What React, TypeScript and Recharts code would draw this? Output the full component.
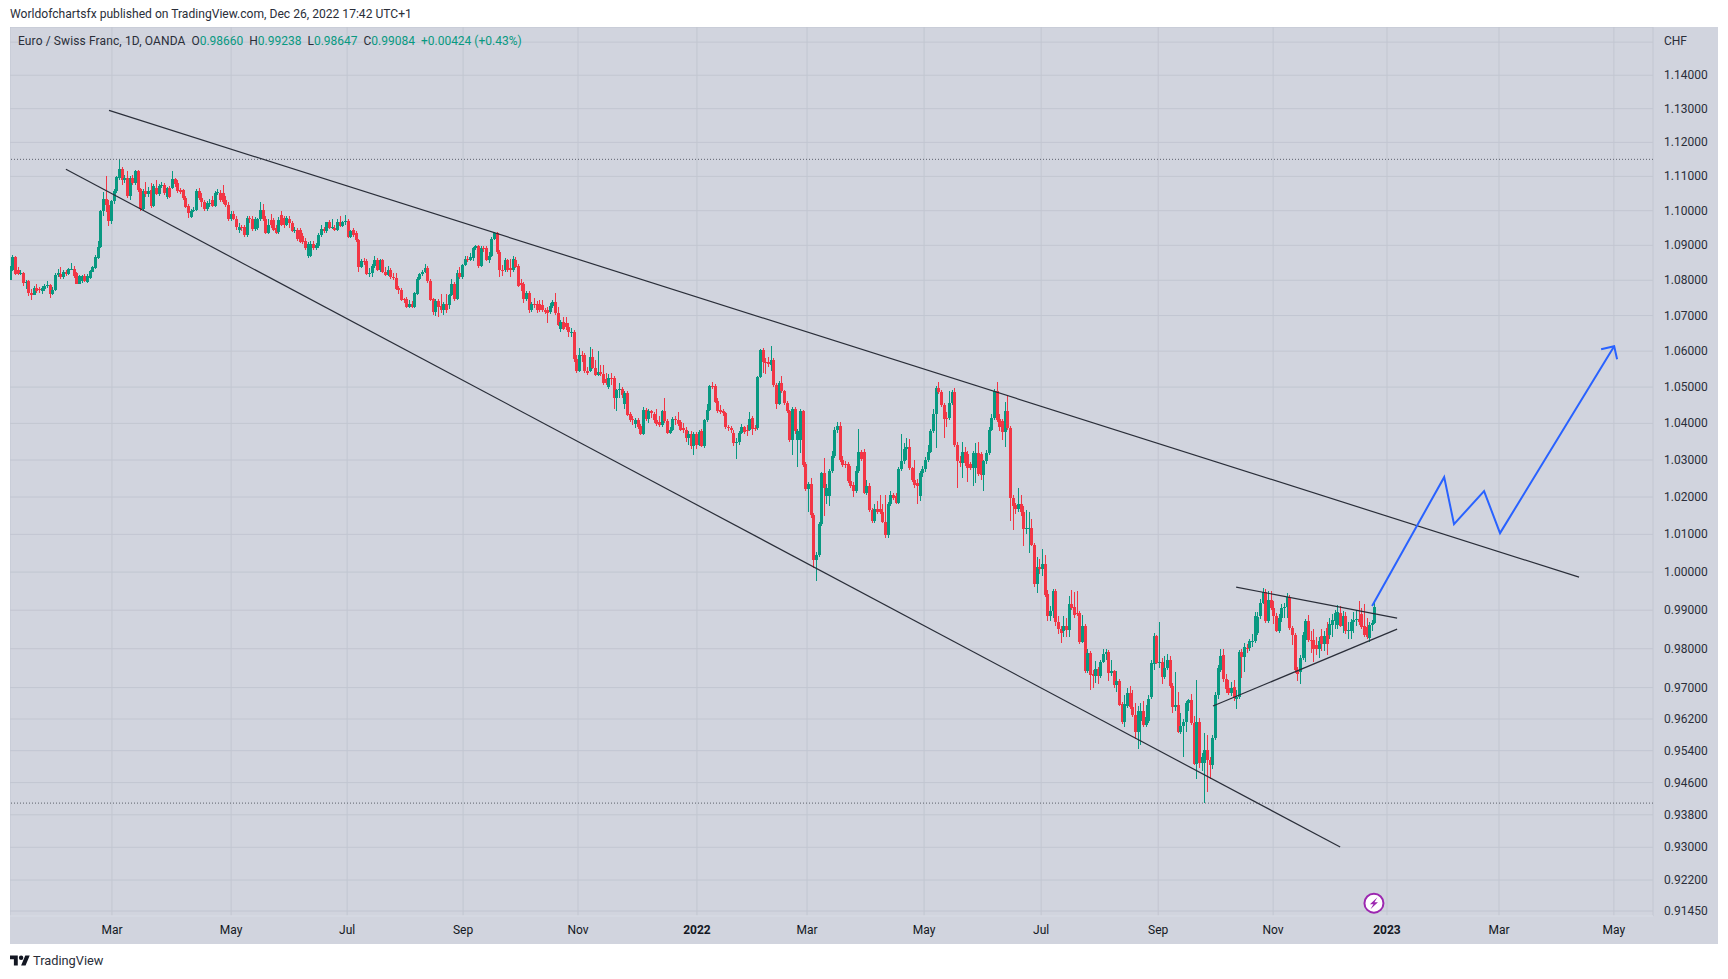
import { Bar, CartesianGrid, ComposedChart, Line, ReferenceDot, ReferenceLine, XAxis, YAxis } from "recharts";

type Ohlc = number[];

// open, high, low, close per trading day
const bars2021JanFeb: Ohlc[] = [
  [1.0802,1.084,1.08,1.0831],[1.0829,1.0871,1.0826,1.0867],[1.0866,1.0868,1.0815,1.0819],[1.083,1.0838,1.0815,1.0819],[1.0819,1.083,1.0815,1.0821],[1.0821,1.0825,1.0785,1.0792],
  [1.0792,1.08,1.0775,1.0794],[1.0797,1.08,1.0754,1.0764],[1.0764,1.0775,1.0745,1.0758],[1.0758,1.0785,1.0757,1.0777],[1.0777,1.0788,1.0765,1.0769],[1.0774,1.078,1.0765,1.0771],
  [1.0769,1.0785,1.0762,1.0778],[1.0776,1.079,1.077,1.0785],[1.0783,1.0798,1.0778,1.0787],[1.0787,1.079,1.0751,1.0761],[1.0761,1.078,1.0758,1.0773],[1.0773,1.082,1.077,1.0815],
  [1.0815,1.0832,1.0808,1.082],[1.0818,1.0838,1.0805,1.0809],[1.0809,1.083,1.0805,1.0825],[1.0825,1.083,1.0812,1.0817],[1.0817,1.0836,1.0815,1.0831],[1.0831,1.0848,1.0828,1.0833],
  [1.0833,1.0842,1.0806,1.0811],[1.0821,1.0824,1.0788,1.079],[1.079,1.0815,1.0788,1.0811],[1.0797,1.0815,1.0792,1.0811],[1.0811,1.0817,1.0794,1.0798],[1.0794,1.0818,1.0792,1.0811],
  [1.0806,1.0829,1.0803,1.0826],[1.0825,1.0841,1.0823,1.0838],[1.0835,1.0872,1.0833,1.0867],[1.0864,1.0912,1.0862,1.0895],[1.0895,1.1003,1.0893,1.1],[1.1,1.1055,1.0985,1.1033],
  [1.1033,1.11,1.0997,1.1017],[1.1017,1.103,1.0957,1.0969],
];
const bars2021MarApr: Ohlc[] = [
  [1.0969,1.1032,1.0962,1.1027],[1.1027,1.1062,1.102,1.1056],[1.1056,1.1102,1.1052,1.1098],[1.1095,1.115,1.109,1.1121],[1.1121,1.1127,1.1075,1.1088],[1.1088,1.1103,1.108,1.1095],
  [1.1095,1.1117,1.1036,1.1042],[1.1042,1.11,1.103,1.1095],[1.1095,1.1105,1.1075,1.1081],[1.1081,1.1118,1.1075,1.1115],[1.1115,1.1118,1.1055,1.106],[1.1062,1.1065,1.1,1.1004],
  [1.1004,1.1062,1.1,1.1056],[1.1056,1.1085,1.104,1.1048],[1.1048,1.1068,1.104,1.1058],[1.106,1.1082,1.1008,1.1015],[1.1015,1.1078,1.101,1.1073],[1.1065,1.109,1.1045,1.1048],
  [1.1048,1.1078,1.1044,1.1073],[1.1073,1.1085,1.1065,1.1075],[1.1075,1.108,1.1045,1.105],[1.1039,1.107,1.1035,1.1066],[1.1066,1.1072,1.1036,1.1039],[1.1066,1.1117,1.1062,1.1091],
  [1.1091,1.1096,1.107,1.1078],[1.1082,1.109,1.1052,1.1056],[1.106,1.1066,1.1048,1.1054],[1.106,1.1063,1.103,1.1036],[1.1038,1.1042,1.1008,1.1012],[1.1014,1.102,1.0978,1.0993],
  [1.0983,1.1005,1.098,1.1],[1.1,1.1012,1.0995,1.1002],[1.1002,1.1062,1.0998,1.1057],[1.1058,1.1066,1.1032,1.1038],[1.1038,1.105,1.101,1.1024],[1.1026,1.1032,1.0998,1.1005],
  [1.1005,1.1028,1.1,1.1021],[1.1021,1.1033,1.1012,1.1023],[1.1031,1.1044,1.1011,1.1015],[1.1015,1.1058,1.1012,1.1052],[1.1052,1.1062,1.1046,1.1054],[1.1052,1.106,1.1026,1.1031],
  [1.105,1.1074,1.102,1.1026],[1.1031,1.1042,1.1012,1.1017],[1.1017,1.1025,1.097,1.0976],
];
const bars2021MayJun: Ohlc[] = [
  [1.0976,1.1,1.097,1.0991],[1.0991,1.1,1.0972,1.0976],[1.0976,1.0984,1.0945,1.0953],[1.0945,1.0965,1.0935,1.0953],[1.0953,1.096,1.094,1.095],[1.0953,1.0958,1.0925,1.0929],
  [1.0929,1.0985,1.0925,1.0978],[1.0978,1.0985,1.0965,1.0975],[1.0975,1.0985,1.0942,1.0947],[1.0947,1.0982,1.0942,1.0976],[1.095,1.098,1.0945,1.0976],[1.0976,1.1025,1.097,1.1002],
  [1.1002,1.102,1.097,1.0976],[1.0976,1.0985,1.0932,1.0936],[1.0936,1.0975,1.0932,1.096],[1.0972,1.099,1.095,1.0958],[1.0973,1.098,1.094,1.0945],[1.095,1.0958,1.0932,1.0936],
  [1.0937,1.0982,1.0932,1.0973],[1.0988,1.1,1.0955,1.096],[1.0978,1.0985,1.095,1.096],[1.096,1.0985,1.0955,1.0978],[1.0975,1.0985,1.095,1.0965],[1.0964,1.097,1.0938,1.0942],
  [1.0942,1.0952,1.0936,1.0944],[1.0945,1.095,1.0912,1.0917],[1.0943,1.0949,1.0906,1.0911],[1.0927,1.0935,1.0905,1.0911],[1.0913,1.0922,1.0888,1.0892],[1.087,1.0911,1.0865,1.0904],
  [1.087,1.0912,1.0866,1.0904],[1.0904,1.0912,1.0888,1.0892],[1.0892,1.0908,1.0888,1.0902],[1.0899,1.0935,1.0892,1.093],[1.093,1.0958,1.0925,1.0947],[1.0947,1.0952,1.0936,1.094],
  [1.094,1.0968,1.0936,1.0966],[1.0966,1.0972,1.0947,1.0951],[1.0951,1.0975,1.0948,1.0953],[1.0951,1.0958,1.094,1.0945],[1.0945,1.0975,1.0942,1.0968],[1.0968,1.0985,1.0952,1.0956],
  [1.0956,1.097,1.0953,1.0968],
];
const bars2021JulAug: Ohlc[] = [
  [1.0968,1.0988,1.0958,1.0971],[1.097,1.0975,1.0922,1.0923],[1.0923,1.0945,1.092,1.094],[1.0943,1.0949,1.0925,1.093],[1.0935,1.094,1.091,1.0914],[1.0914,1.0918,1.0825,1.0838],
  [1.0838,1.086,1.0835,1.0856],[1.0856,1.0865,1.0845,1.0852],[1.0854,1.0862,1.0815,1.0819],[1.0819,1.0835,1.081,1.0822],[1.0822,1.0846,1.0808,1.0841],[1.0841,1.0868,1.0836,1.0859],
  [1.0859,1.0863,1.0826,1.083],[1.0828,1.0861,1.0824,1.0857],[1.0857,1.086,1.082,1.0823],[1.0823,1.0838,1.0812,1.0816],[1.0816,1.084,1.0812,1.0828],[1.0828,1.0835,1.0804,1.0808],
  [1.0808,1.082,1.08,1.0806],[1.0806,1.0822,1.0772,1.0776],[1.0778,1.0785,1.0762,1.0771],[1.0773,1.0778,1.074,1.0744],[1.0746,1.075,1.0735,1.0744],[1.0746,1.0752,1.072,1.0725],
  [1.0725,1.0745,1.072,1.0733],[1.0733,1.074,1.072,1.0725],[1.0725,1.0766,1.0721,1.0763],[1.0761,1.0808,1.0758,1.0804],[1.0804,1.0822,1.08,1.0818],[1.0818,1.0829,1.0812,1.0825],
  [1.0823,1.0846,1.082,1.0836],[1.0836,1.0842,1.0793,1.0797],[1.0799,1.0803,1.074,1.0744],[1.0746,1.075,1.0701,1.0711],[1.0711,1.0748,1.07,1.0742],[1.0742,1.0747,1.0695,1.0725],
  [1.0727,1.076,1.0708,1.0717],[1.0717,1.0737,1.0702,1.0733],[1.0733,1.0762,1.0707,1.0717],[1.073,1.0762,1.0718,1.0758],[1.0758,1.0805,1.0755,1.079],[1.079,1.0795,1.0742,1.0746],
  [1.0746,1.083,1.0743,1.082],[1.082,1.0838,1.0804,1.0809],
];
const bars2021SepOct: Ohlc[] = [
  [1.0809,1.0847,1.0805,1.0844],[1.0844,1.0868,1.084,1.0861],[1.0861,1.087,1.0852,1.0859],[1.0859,1.0877,1.0855,1.0866],[1.0863,1.0896,1.0855,1.0892],[1.0892,1.0902,1.0888,1.0897],
  [1.0897,1.0901,1.0836,1.084],[1.084,1.0897,1.0837,1.0892],[1.0892,1.0897,1.088,1.0889],[1.0892,1.0897,1.0855,1.0859],[1.0859,1.088,1.085,1.087],[1.087,1.0925,1.0866,1.0918],
  [1.0918,1.0938,1.0915,1.0935],[1.0935,1.0938,1.0876,1.088],[1.088,1.0888,1.0808,1.0828],[1.0828,1.0845,1.0812,1.0826],[1.0828,1.0864,1.0823,1.0857],[1.0857,1.0862,1.0825,1.083],
  [1.0835,1.086,1.081,1.0828],[1.0828,1.0868,1.0824,1.0861],[1.0859,1.0866,1.0834,1.0838],[1.0842,1.0846,1.078,1.0784],[1.0792,1.0805,1.077,1.0787],[1.079,1.0795,1.0735,1.0746],
  [1.0746,1.077,1.0742,1.0765],[1.0765,1.077,1.0707,1.0717],[1.0717,1.0738,1.071,1.0733],[1.0733,1.075,1.0722,1.0731],[1.0733,1.0742,1.0708,1.0715],[1.0733,1.0745,1.071,1.0715],
  [1.073,1.0745,1.071,1.0715],[1.0715,1.0722,1.0703,1.0711],[1.0715,1.0725,1.068,1.0708],[1.0711,1.0735,1.0705,1.0727],[1.0727,1.0745,1.0722,1.0739],[1.0739,1.0765,1.0702,1.0706],
  [1.0706,1.0725,1.067,1.0674],[1.0663,1.0688,1.0655,1.0682],[1.0682,1.0695,1.0658,1.0663],[1.0679,1.0695,1.066,1.0668],[1.0668,1.068,1.064,1.0653],[1.0653,1.0665,1.064,1.0655],
  [1.0655,1.066,1.057,1.0579],
];
const bars2021NovDec: Ohlc[] = [
  [1.0579,1.059,1.054,1.0546],[1.0546,1.061,1.0543,1.059],[1.059,1.06,1.057,1.0587],[1.059,1.0595,1.054,1.0546],[1.0546,1.0555,1.0533,1.0539],[1.0546,1.0612,1.0542,1.0584],
  [1.0584,1.0605,1.055,1.0553],[1.0553,1.0575,1.053,1.0534],[1.0534,1.06,1.053,1.0541],[1.0541,1.056,1.053,1.0536],[1.0536,1.056,1.0505,1.051],[1.0522,1.054,1.0505,1.051],
  [1.05,1.0535,1.0495,1.0524],[1.0524,1.0538,1.0505,1.0522],[1.0524,1.053,1.044,1.0469],[1.0469,1.0495,1.0435,1.0491],[1.0491,1.051,1.047,1.0494],[1.0494,1.05,1.047,1.0477],
  [1.0453,1.049,1.044,1.0484],[1.0484,1.049,1.042,1.0424],[1.0427,1.0432,1.0404,1.041],[1.0412,1.042,1.0396,1.0408],[1.0398,1.0415,1.0388,1.041],[1.041,1.0416,1.0385,1.0391],
  [1.0393,1.0398,1.0368,1.037],[1.037,1.0445,1.0368,1.0438],[1.0438,1.0442,1.0406,1.0412],[1.0412,1.044,1.0402,1.0434],[1.0434,1.0438,1.0415,1.0429],[1.0426,1.0432,1.04,1.0408],
  [1.041,1.044,1.0392,1.0398],[1.0405,1.042,1.039,1.0395],[1.0395,1.0438,1.039,1.0434],[1.0434,1.047,1.0402,1.0407],[1.0407,1.0412,1.037,1.0374],[1.0374,1.039,1.037,1.0383],
  [1.0381,1.0418,1.0378,1.0412],[1.0412,1.042,1.0395,1.0408],[1.041,1.043,1.0392,1.0398],[1.0404,1.041,1.0378,1.0383],[1.0386,1.04,1.0375,1.0383],[1.0383,1.039,1.035,1.036],
  [1.036,1.038,1.034,1.0372],[1.0372,1.0378,1.033,1.0338],[1.0338,1.0376,1.0315,1.037],
];
const bars2022JanFeb: Ohlc[] = [
  [1.037,1.0376,1.033,1.034],[1.0341,1.0382,1.0338,1.0377],[1.0379,1.0384,1.0335,1.0338],[1.0338,1.0412,1.0334,1.0408],[1.0409,1.0452,1.0405,1.0437],[1.0437,1.0506,1.0433,1.0504],
  [1.0504,1.0514,1.0495,1.05],[1.0502,1.0508,1.0456,1.046],[1.0462,1.047,1.0428,1.0434],[1.0437,1.045,1.0426,1.0432],[1.0434,1.044,1.042,1.0428],[1.0428,1.0432,1.0385,1.0389],
  [1.0391,1.0395,1.0378,1.0386],[1.0388,1.0392,1.0375,1.0382],[1.0375,1.0382,1.0338,1.0346],[1.0346,1.036,1.0303,1.035],[1.035,1.038,1.034,1.0375],[1.0375,1.0398,1.037,1.0389],
  [1.0389,1.0392,1.0372,1.0377],[1.0382,1.0395,1.0365,1.038],[1.0382,1.0432,1.0378,1.0411],[1.0414,1.042,1.0368,1.0384],[1.0386,1.0396,1.0378,1.0384],[1.0387,1.0532,1.0383,1.0528],
  [1.0528,1.0605,1.0524,1.0602],[1.0602,1.0608,1.054,1.057],[1.057,1.058,1.0535,1.0567],[1.0569,1.0585,1.0555,1.0565],[1.056,1.0615,1.0545,1.0576],[1.0576,1.058,1.05,1.0507],
  [1.0507,1.051,1.044,1.0454],[1.0454,1.0516,1.045,1.0511],[1.0511,1.053,1.0484,1.0488],[1.0488,1.0492,1.045,1.0456],[1.0456,1.0462,1.0428,1.0433],[1.0433,1.0438,1.035,1.0355],
  [1.0355,1.0445,1.0315,1.044],[1.044,1.0445,1.037,1.0379],[1.0355,1.0385,1.0282,1.038],[1.0355,1.044,1.032,1.0435],[1.0434,1.0438,1.0282,1.0287],
];
const bars2022MarApr: Ohlc[] = [
  [1.0289,1.0295,1.0215,1.0221],[1.0221,1.024,1.016,1.0235],[1.0235,1.025,1.0145,1.0151],[1.0151,1.0157,1.001,1.0031],[1.0031,1.0052,0.9976,1.0044],[1.0044,1.0132,1.004,1.0127],
  [1.0127,1.0268,1.0122,1.0264],[1.0266,1.0305,1.015,1.0224],[1.0203,1.0235,1.018,1.0224],[1.0203,1.0275,1.0175,1.0269],[1.0269,1.0325,1.0265,1.031],[1.031,1.039,1.0305,1.0382],
  [1.0382,1.0405,1.0375,1.0393],[1.0393,1.0405,1.0295,1.0299],[1.0299,1.031,1.0282,1.0287],[1.0289,1.0296,1.0278,1.0287],[1.0289,1.0295,1.0238,1.0242],[1.0244,1.0285,1.0225,1.0231],
  [1.0233,1.024,1.02,1.0217],[1.0217,1.0285,1.0212,1.0271],[1.0271,1.0385,1.0266,1.0321],[1.0321,1.0328,1.0296,1.0302],[1.0322,1.033,1.0208,1.0212],[1.0212,1.0245,1.0205,1.023],
  [1.023,1.0238,1.016,1.0165],[1.0165,1.017,1.013,1.0136],[1.0136,1.018,1.013,1.0169],[1.0169,1.019,1.0155,1.016],[1.0169,1.0205,1.0154,1.0159],[1.0159,1.018,1.013,1.0134],
  [1.0134,1.0205,1.009,1.0099],[1.0099,1.0186,1.009,1.0181],[1.0181,1.0215,1.0176,1.0206],[1.0206,1.0212,1.0192,1.0197],[1.0204,1.021,1.018,1.0185],[1.0185,1.028,1.018,1.0275],
  [1.0275,1.0371,1.027,1.0296],[1.0296,1.0345,1.029,1.0329],[1.0329,1.036,1.03,1.0335],[1.0335,1.0357,1.0272,1.0278],[1.0278,1.0282,1.024,1.0246],[1.0246,1.03,1.0225,1.0233],
  [1.0239,1.0248,1.018,1.023],[1.0203,1.027,1.019,1.0264],
];
const bars2022MayJun: Ohlc[] = [
  [1.0264,1.0285,1.0255,1.0275],[1.0275,1.0308,1.0268,1.03],[1.03,1.034,1.0295,1.0323],[1.0323,1.0385,1.0318,1.038],[1.038,1.044,1.0375,1.0426],[1.0426,1.0502,1.0332,1.0498],
  [1.0498,1.0515,1.048,1.0487],[1.0487,1.0492,1.0445,1.0451],[1.0451,1.0455,1.036,1.0412],[1.0414,1.043,1.039,1.0412],[1.0414,1.049,1.041,1.0456],[1.0456,1.0492,1.045,1.0487],
  [1.0487,1.0497,1.0336,1.0341],[1.0341,1.035,1.0225,1.0296],[1.0296,1.0312,1.028,1.0291],[1.0291,1.035,1.0252,1.0323],[1.0323,1.0335,1.0285,1.0291],[1.0317,1.0325,1.024,1.0278],
  [1.0289,1.0295,1.0272,1.0278],[1.0278,1.0325,1.023,1.032],[1.0278,1.0345,1.0238,1.032],[1.032,1.035,1.0258,1.0262],[1.0317,1.0322,1.0245,1.026],[1.026,1.03,1.0215,1.0296],
  [1.0296,1.0328,1.029,1.032],[1.032,1.039,1.0315,1.0382],[1.0382,1.0425,1.0378,1.0414],[1.0414,1.0495,1.041,1.049],[1.049,1.0515,1.0404,1.0409],[1.0411,1.0425,1.038,1.0389],
  [1.0407,1.0412,1.0355,1.0377],[1.0377,1.046,1.0335,1.0434],[1.0434,1.0478,1.0382,1.0386],[1.0386,1.0392,1.0135,1.0198],[1.0198,1.0205,1.0112,1.0177],[1.0179,1.0185,1.0155,1.0169],
  [1.0169,1.0225,1.016,1.0181],[1.0181,1.0205,1.015,1.016],[1.016,1.0175,1.007,1.0113],[1.0113,1.0165,1.01,1.0117],[1.0113,1.016,1.005,1.0118],[1.0118,1.014,1.0068,1.0073],
  [1.0073,1.0078,0.9962,0.9968],[0.9968,1.004,0.9946,1.0014],
];
const bars2022JulAug: Ohlc[] = [
  [1.0014,1.0035,0.9995,1.0008],[1.0008,1.006,0.999,1.0022],[1.0022,1.0045,0.9935,0.994],[0.9943,0.9952,0.9872,0.9885],[0.9885,0.9912,0.9872,0.9897],[0.9897,0.9955,0.988,0.9951],
  [0.9951,0.9955,0.9858,0.987],[0.987,0.9885,0.9838,0.9852],[0.9852,0.9858,0.9815,0.984],[0.9845,0.9885,0.983,0.9859],[0.9859,0.988,0.983,0.9848],[0.9848,0.9938,0.983,0.9917],
  [0.9917,0.9952,0.99,0.9906],[0.9908,0.9948,0.988,0.9888],[0.9892,0.995,0.9885,0.989],[0.9892,0.9897,0.9812,0.9817],[0.9817,0.9888,0.9815,0.9859],[0.9859,0.9863,0.9738,0.9742],
  [0.9742,0.98,0.9738,0.979],[0.979,0.9795,0.9695,0.9732],[0.9734,0.9745,0.97,0.973],[0.973,0.9768,0.9712,0.9747],[0.9747,0.9752,0.9708,0.973],[0.973,0.977,0.9725,0.9767],
  [0.9767,0.98,0.9762,0.9786],[0.9786,0.98,0.977,0.9792],[0.9792,0.9797,0.9718,0.9738],[0.9738,0.9772,0.973,0.9742],[0.9742,0.9745,0.97,0.9706],[0.9706,0.9742,0.969,0.9717],
  [0.9717,0.9722,0.9652,0.9656],[0.9658,0.9662,0.9608,0.9613],[0.9613,0.968,0.96,0.9658],[0.9653,0.97,0.9648,0.9686],[0.9686,0.9705,0.9645,0.965],[0.9651,0.9695,0.9625,0.963],
  [0.963,0.966,0.957,0.9588],[0.9588,0.9652,0.9545,0.964],[0.9615,0.966,0.9555,0.964],[0.964,0.9665,0.96,0.9606],[0.9606,0.9655,0.96,0.9626],[0.9615,0.968,0.961,0.9672],
  [0.9677,0.977,0.9672,0.9762],[0.976,0.984,0.9745,0.9832],
];
const bars2022SepOct: Ohlc[] = [
  [0.9832,0.9836,0.976,0.9764],[0.9764,0.9868,0.975,0.9767],[0.9767,0.9775,0.971,0.9728],[0.9728,0.9782,0.9722,0.975],[0.975,0.9786,0.9745,0.9771],[0.9771,0.9782,0.97,0.9705],
  [0.9705,0.9712,0.9636,0.9651],[0.9651,0.974,0.964,0.9656],[0.9656,0.969,0.9585,0.9588],[0.9588,0.9635,0.9582,0.9603],[0.9603,0.962,0.9525,0.9613],[0.9613,0.9665,0.9588,0.966],
  [0.966,0.9672,0.964,0.9668],[0.9668,0.9684,0.9605,0.9611],[0.9611,0.9628,0.9503,0.9507],[0.9507,0.9719,0.9468,0.9612],[0.9612,0.9622,0.9497,0.9508],[0.9508,0.9535,0.949,0.9525],
  [0.9508,0.9585,0.9409,0.9542],[0.9542,0.958,0.9437,0.9517],[0.9517,0.9525,0.947,0.9503],[0.9503,0.958,0.9495,0.9573],[0.9573,0.969,0.9568,0.9681],[0.9681,0.9757,0.967,0.975],
  [0.9746,0.98,0.974,0.9781],[0.9783,0.98,0.9715,0.9722],[0.9722,0.9735,0.9685,0.9696],[0.97,0.972,0.968,0.9687],[0.9687,0.9715,0.9678,0.97],[0.9702,0.972,0.9665,0.9673],
  [0.9672,0.9695,0.9645,0.9675],[0.9675,0.9797,0.967,0.9792],[0.9792,0.98,0.9725,0.9779],[0.9779,0.9815,0.974,0.9805],[0.9803,0.9812,0.979,0.9801],[0.9803,0.9825,0.9795,0.982],
  [0.982,0.9838,0.9805,0.9821],[0.982,0.9895,0.9815,0.9884],[0.984,0.9895,0.9835,0.9882],[0.9884,0.993,0.9878,0.9919],[0.9919,0.9958,0.9915,0.9947],[0.9947,0.9956,0.9866,0.9871],
  [0.9871,0.995,0.9866,0.9928],
];
const bars2022NovDec: Ohlc[] = [
  [0.9928,0.995,0.99,0.9906],[0.9906,0.9925,0.9865,0.9884],[0.9884,0.9892,0.9842,0.9847],[0.9847,0.989,0.984,0.988],[0.988,0.9915,0.987,0.9906],[0.9906,0.9918,0.988,0.9909],
  [0.9909,0.9945,0.988,0.9935],[0.9935,0.994,0.9848,0.9853],[0.9853,0.986,0.981,0.9836],[0.9836,0.984,0.9738,0.9744],[0.9744,0.9752,0.9718,0.9735],[0.9739,0.9785,0.971,0.9777],
  [0.9777,0.9842,0.977,0.9836],[0.9823,0.9878,0.9765,0.9873],[0.9873,0.9888,0.9818,0.9823],[0.9823,0.9845,0.979,0.9821],[0.9823,0.985,0.9765,0.9798],[0.981,0.983,0.9785,0.9798],
  [0.9798,0.983,0.9775,0.9821],[0.9833,0.985,0.9795,0.9812],[0.9812,0.9845,0.9795,0.9833],[0.9853,0.987,0.9785,0.9812],[0.9836,0.988,0.9825,0.9865],[0.9862,0.989,0.983,0.9875],
  [0.9873,0.99,0.985,0.9893],[0.9862,0.9913,0.985,0.9895],[0.9893,0.991,0.9855,0.986],[0.986,0.9897,0.984,0.9886],[0.9886,0.9895,0.9838,0.9845],[0.9845,0.9868,0.9825,0.9848],
  [0.9845,0.9878,0.9825,0.9868],[0.9868,0.9895,0.984,0.9875],[0.9875,0.99,0.986,0.9877],[0.9877,0.9925,0.9862,0.9868],[0.9891,0.9905,0.985,0.9856],[0.9858,0.9915,0.983,0.9836],
  [0.9856,0.988,0.9825,0.983],[0.9827,0.987,0.9818,0.9862],[0.9862,0.9875,0.9845,0.9866],[0.9866,0.99238,0.98647,0.99084],
];

const barChunks = [bars2021JanFeb, bars2021MarApr, bars2021MayJun, bars2021JulAug, bars2021SepOct, bars2021NovDec, bars2022JanFeb, bars2022MarApr, bars2022MayJun, bars2022JulAug, bars2022SepOct, bars2022NovDec];

const priceTicks = [1.15, 1.14, 1.13, 1.12, 1.11, 1.1, 1.09, 1.08, 1.07, 1.06, 1.05, 1.04, 1.03, 1.02, 1.01, 1, 0.99, 0.98, 0.97, 0.962, 0.954, 0.946, 0.938, 0.93, 0.922, 0.9145];
const timeTicks = [38.2, 83, 126.6, 170.2, 213.4, 258.1, 299.5, 343.5, 387.5, 431.5, 474.7, 517.5, 559.6, 602.8];
const timeLabels = ["Mar", "May", "Jul", "Sep", "Nov", "2022", "Mar", "May", "Jul", "Sep", "Nov", "2023", "Mar", "May"];
const dottedLevels = [1.115, 0.9409];

const upperTrend = [{ i: 37.1, p: 1.1295 }, { i: 589.7, p: 0.99868 }];
const lowerTrend = [{ i: 20.9, p: 1.1121 }, { i: 499.9, p: 0.93006 }];
const triangleTop = [{ i: 460.8, p: 0.99606 }, { i: 521.3, p: 0.98794 }];
const triangleBottom = [{ i: 452.1, p: 0.96529 }, { i: 521.3, p: 0.98508 }];
const forecast = [{ i: 511.9, p: 0.99108 }, { i: 539, p: 1.02536 }, { i: 542.7, p: 1.01274 }, { i: 554, p: 1.02158 }, { i: 560, p: 1.01033 }, { i: 602.9, p: 1.06138 }];
const arrowHead = [{ i: 598, p: 1.06056 }, { i: 602.9, p: 1.06138 }, { i: 604, p: 1.05776 }];

const candles = barChunks.flat().map((b, i) => ({ i, open: b[0], high: b[1], low: b[2], close: b[3], range: [b[2], b[1]] }));

const UP = "#089981";
const DOWN = "#f23645";
const FONT = "Roboto, sans-serif";

// the bar spans low..high, so the body is placed inside it on the same log scale
function Candle({ x, y, width, height, payload }: any) {
  if (!payload || height === undefined) return null;
  const { open, high, low, close } = payload;
  const span = Math.log(high) - Math.log(low);
  const at = (p: number) => y + (height * (Math.log(high) - Math.log(p))) / span;
  const color = close >= open ? UP : DOWN;
  const top = at(Math.max(open, close));
  const bottom = at(Math.min(open, close));
  const left = Math.round(x + width / 2 - 1.5);
  return (
    <g shapeRendering="crispEdges">
      <rect x={left + 1} y={y} width={1} height={height} fill={color} />
      <rect x={left} y={top} width={3} height={Math.max(bottom - top, 1)} fill={color} />
    </g>
  );
}

function TimeTick({ x, y, index }: any) {
  const label = timeLabels[index];
  const isYear = label.length === 4;
  return (
    <text x={x} y={y} dy={12} textAnchor="middle" fontFamily={FONT} fontSize={12} fontWeight={isYear ? 700 : 400} fill="#131722">
      {label}
    </text>
  );
}

function Bolt({ cx, cy }: any) {
  return (
    <g>
      <circle cx={cx} cy={cy} r={9.5} fill="#ffffff" stroke="#9c27b0" strokeWidth={2} />
      <path d={`M${cx + 3.5} ${cy - 6} L${cx - 4} ${cy + 1} L${cx - 0.5} ${cy + 1} L${cx - 3.5} ${cy + 6} L${cx + 4} ${cy - 1} L${cx + 0.5} ${cy - 1} Z`} fill="#9c27b0" />
    </g>
  );
}

function PriceTick({ x, y, payload }: any) {
  const isCurrency = payload.value === 1.15;
  return (
    <text x={x} y={y} dy={isCurrency ? 3 : 4} fontFamily={FONT} fontSize={12} fill="#2a2e39">
      {isCurrency ? "CHF" : payload.value.toFixed(5)}
    </text>
  );
}

export default function App() {
  return (
    <div style={{ position: "absolute", left: 0, top: 0, width: 1728, height: 979, background: "#ffffff", fontFamily: FONT, overflow: "hidden" }}>
      <div style={{ position: "absolute", left: 10, top: 7, fontSize: 12.1, color: "#2a2e39", whiteSpace: "nowrap" }}>
        Worldofchartsfx published on TradingView.com, Dec 26, 2022 17:42 UTC+1
      </div>

      <div style={{ position: "absolute", left: 10, top: 27, width: 1708, height: 917, background: "#d1d4de", overflow: "hidden" }}>
        <ComposedChart width={1708} height={917} data={candles} margin={{ top: 0, right: 0, bottom: 0, left: 0 }}>
          <CartesianGrid stroke="#c2c6d1" strokeWidth={1} />
          <XAxis
            dataKey="i"
            type="number"
            domain={[-0.124, 617.5]}
            ticks={timeTicks}
            interval={0}
            height={28}
            tickLine={false}
            tickSize={0}
            tickMargin={6}
            axisLine={{ stroke: "#e0e3eb" }}
            tick={<TimeTick />}
          />
          <YAxis
            orientation="right"
            scale="log"
            domain={[0.9133, 1.1546]}
            ticks={priceTicks}
            interval={0}
            width={65}
            tickLine={false}
            tickSize={0}
            tickMargin={11}
            axisLine={false}
            tick={<PriceTick />}
          />
          {dottedLevels.map((level) => (
            <ReferenceLine key={level} y={level} stroke="#5d606b" strokeDasharray="1 2" />
          ))}
          <Bar dataKey="range" barSize={3} shape={<Candle />} isAnimationActive={false} />
          {[upperTrend, lowerTrend, triangleTop, triangleBottom].map((pts, k) => (
            <Line key={k} data={pts} dataKey="p" stroke="#2a2e39" strokeWidth={1.2} dot={false} activeDot={false} legendType="none" isAnimationActive={false} />
          ))}
          <Line data={forecast} dataKey="p" stroke="#2962ff" strokeWidth={2} dot={false} activeDot={false} legendType="none" isAnimationActive={false} />
          <Line data={arrowHead} dataKey="p" stroke="#2962ff" strokeWidth={2} dot={false} activeDot={false} legendType="none" isAnimationActive={false} />
          <ReferenceDot x={512.6} y={0.9164} r={10} shape={<Bolt />} ifOverflow="visible" />
        </ComposedChart>
        <div style={{ position: "absolute", left: 8, top: 7, fontSize: 12, color: "#2a2e39", whiteSpace: "nowrap" }}>
          <span style={{ letterSpacing: 0.12 }}>Euro / Swiss Franc, 1D, OANDA</span>&nbsp;&nbsp;O<span style={{ color: UP }}>0.98660</span>&nbsp;&nbsp;H<span style={{ color: UP }}>0.99238</span>&nbsp;&nbsp;L<span style={{ color: UP }}>0.98647</span>&nbsp;&nbsp;C<span style={{ color: UP }}>0.99084</span>&nbsp;&nbsp;<span style={{ color: UP }}>+0.00424 (+0.43%)</span>
        </div>
      </div>

      <svg style={{ position: "absolute", left: 10, top: 953 }} width={20} height={16} viewBox="0 0 36 28">
        <path d="M14 22H7V11H0V4h14v18zM28 22h-8l7.5-18h8L28 22z" fill="#131722" />
        <circle cx="20" cy="8" r="4" fill="#131722" />
      </svg>
      <div style={{ position: "absolute", left: 33, top: 953, fontSize: 12.8, color: "#2a2e39" }}>TradingView</div>
    </div>
  );
}
